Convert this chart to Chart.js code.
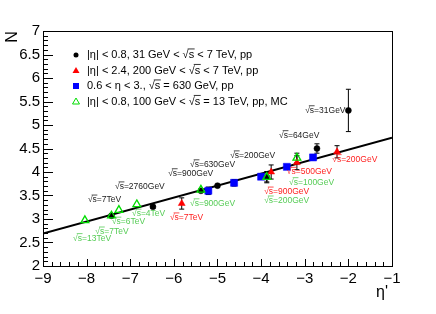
<!DOCTYPE html>
<html>
<head>
<meta charset="utf-8">
<script src="https://cdn.jsdelivr.net/npm/chart.js@4.4.1/dist/chart.umd.min.js"></script>
<style>
  html, body { margin: 0; padding: 0; background: #fff; }
</style>
</head>
<body>
<canvas id="chart" width="436" height="314"></canvas>
<script>
// --- data ---

// |eta| < 0.8, 31 GeV < sqrt(s) < 7 TeV, pp
const blackX   = [-7.43, -6.48, -5.38, -5.00, -3.87, -2.72, -2.00];
const blackY   = [3.07, 3.26, 3.60, 3.71, 3.89, 4.50, 5.31];
const blackErr = [0.04, 0.03, 0.03, 0.03, 0.10, 0.10, 0.45];

// |eta| < 2.4, 200 GeV < sqrt(s) < 7 TeV, pp
const redX   = [-5.82, -3.77, -3.18, -2.26];
const redY   = [3.33, 4.00, 4.20, 4.43];
const redErr = [0.12, 0.15, 0.15, 0.13];

// 0.6 < eta < 3., sqrt(s) = 630 GeV, pp
const blueX   = [-5.21, -4.62, -4.00, -3.41, -2.81];
const blueY   = [3.60, 3.77, 3.90, 4.11, 4.31];
const blueErr = [0.08, 0.07, 0, 0, 0];

// |eta| < 0.8, 100 GeV < sqrt(s) = 13 TeV, pp, MC
const greenX   = [-8.04, -7.43, -7.26, -6.85, -5.38, -3.87, -3.18];
const greenY   = [2.97, 3.07, 3.19, 3.31, 3.62, 3.89, 4.30];
const greenErr = [0, 0, 0, 0, 0, 0.12, 0.10];

// straight-line fit
const fitX = [-9, -1];
const fitY = [2.69, 4.73];

const legendLabels = [
    '|η| < 0.8, 31 GeV < √s < 7 TeV, pp',
    '|η| < 2.4, 200 GeV < √s < 7 TeV, pp',
    '0.6 < η < 3., √s = 630 GeV, pp',
    '|η| < 0.8, 100 GeV < √s = 13 TeV, pp, MC',
];

// energy annotations: [text, x, y]
const blackNotes = [
    ['√s=7TeV', -7.97, 3.41],
    ['√s=2760GeV', -7.35, 3.69],
    ['√s=900GeV', -6.13, 3.97],
    ['√s=630GeV', -5.63, 4.16],
    ['√s=200GeV', -4.71, 4.35],
    ['√s=64GeV', -3.59, 4.78],
    ['√s=31GeV', -2.99, 5.31],
];
const redNotes = [
    ['√s=7TeV', -6.09, 3.03],
    ['√s=900GeV', -3.93, 3.58],
    ['√s=500GeV', -3.41, 4.00],
    ['√s=200GeV', -2.37, 4.27],
];
const greenNotes = [
    ['√s=13TeV', -8.31, 2.59],
    ['√s=7TeV', -7.80, 2.73],
    ['√s=6TeV', -7.42, 2.94],
    ['√s=4TeV', -6.96, 3.11],
    ['√s=900GeV', -5.63, 3.33],
    ['√s=100GeV', -3.36, 3.78],
    ['√s=200GeV', -3.93, 3.39],
];

// --- helpers ---
const FONT = '"Liberation Sans", Arial, sans-serif';
const zip = (xs, ys) => xs.map((x, i) => ({ x, y: ys[i] }));

// text with an overline over the s following a sqrt sign (ROOT style)
function rootText(ctx, text, x, y) {
    ctx.fillText(text, x, y);
    const i = text.indexOf('√s');
    if (i < 0) return;
    const size = parseFloat(ctx.font.match(/(\d+(\.\d+)?)px/)[1]);
    const x0 = x + ctx.measureText(text.slice(0, i + 1)).width;
    const x1 = x0 + ctx.measureText('s').width;
    const yTop = y - size * 0.55;
    ctx.save();
    ctx.strokeStyle = ctx.fillStyle;
    ctx.lineWidth = 0.8;
    ctx.beginPath();
    ctx.moveTo(x0 - 1, yTop);
    ctx.lineTo(x1 + 0.5, yTop);
    ctx.stroke();
    ctx.restore();
}

const series = [
    { data: zip(blackX, blackY), err: blackErr, pointStyle: 'circle', radius: 3,
      color: '#000000', fill: '#000000' },
    { data: zip(redX, redY), err: redErr, pointStyle: 'triangle', radius: 4,
      color: '#ff0000', fill: '#ff0000' },
    { data: zip(blueX, blueY), err: blueErr, pointStyle: 'rect', radius: 5,
      color: '#0000ff', fill: '#0000ff' },
    { data: zip(greenX, greenY), err: greenErr, pointStyle: 'triangle', radius: 4.5,
      color: '#00dd00', fill: 'rgba(0,0,0,0)' },
];

// ROOT-like frame: inward ticks, box, error bars, notes, legend, axis titles
const rootFrame = {
    id: 'rootFrame',
    beforeDatasetsDraw(chart) {
        const { ctx, scales: { x, y } } = chart;
        ctx.save();
        ctx.strokeStyle = '#000';
        ctx.lineWidth = 1;
        series.forEach(s => {
            s.data.forEach((p, i) => {
                const e = s.err[i];
                if (!e) return;
                const px = x.getPixelForValue(p.x);
                const lo = y.getPixelForValue(p.y - e);
                const hi = y.getPixelForValue(p.y + e);
                ctx.beginPath();
                ctx.moveTo(px, lo); ctx.lineTo(px, hi);
                ctx.moveTo(px - 2.5, lo); ctx.lineTo(px + 2.5, lo);
                ctx.moveTo(px - 2.5, hi); ctx.lineTo(px + 2.5, hi);
                ctx.stroke();
            });
        });
        ctx.restore();
    },
    afterDraw(chart) {
        const { ctx, chartArea: a, scales: { x, y } } = chart;
        ctx.save();
        ctx.strokeStyle = '#000';
        ctx.lineWidth = 1;
        ctx.strokeRect(a.left + 0.5, a.top + 0.5, a.right - a.left, a.bottom - a.top);

        ctx.beginPath();
        for (let v = x.min; v <= x.max + 1e-9; v += 0.2) {
            const px = Math.round(x.getPixelForValue(v)) + 0.5;
            const major = Math.abs(v - Math.round(v)) < 1e-6;
            ctx.moveTo(px, a.bottom);
            ctx.lineTo(px, a.bottom - (major ? 7 : 4));
        }
        for (let v = y.min; v <= y.max + 1e-9; v += 0.1) {
            const py = Math.round(y.getPixelForValue(v)) + 0.5;
            const major = Math.abs(v * 2 - Math.round(v * 2)) < 1e-6;
            ctx.moveTo(a.left, py);
            ctx.lineTo(a.left + (major ? 10 : 5), py);
        }
        ctx.stroke();

        // energy notes
        ctx.font = '8.5px ' + FONT;
        ctx.textBaseline = 'middle';
        ctx.textAlign = 'left';
        [[blackNotes, '#222222'], [redNotes, '#ff2020'], [greenNotes, '#55cc55']].forEach(([notes, col]) => {
            ctx.fillStyle = col;
            notes.forEach(([t, vx, vy]) => rootText(ctx, t, x.getPixelForValue(vx), y.getPixelForValue(vy)));
        });

        // legend
        ctx.font = '11px ' + FONT;
        legendLabels.forEach((t, i) => {
            const ly = 55 + i * 15.5;
            const s = series[i];
            ctx.fillStyle = s.fill;
            ctx.strokeStyle = s.color;
            ctx.lineWidth = 1;
            ctx.beginPath();
            if (s.pointStyle === 'circle') {
                ctx.arc(76, ly, 2.5, 0, Math.PI * 2);
                ctx.fill();
            } else if (s.pointStyle === 'rect') {
                ctx.fillRect(73, ly - 3, 6, 6);
            } else {
                ctx.moveTo(76, ly - 3.5); ctx.lineTo(79.5, ly + 2.5); ctx.lineTo(72.5, ly + 2.5);
                ctx.closePath();
                if (s.fill !== 'rgba(0,0,0,0)') ctx.fill(); else ctx.stroke();
            }
            ctx.fillStyle = '#000';
            rootText(ctx, t, 87, ly);
        });

        // axis titles
        ctx.fillStyle = '#000';
        ctx.font = '16px ' + FONT;
        ctx.textAlign = 'center';
        ctx.fillText('η\'', 382, 293);
        ctx.translate(13, 37);
        ctx.rotate(-Math.PI / 2);
        ctx.fillText('N', 0, 0);
        ctx.restore();
    }
};

const datasets = [
    {
        type: 'line',
        data: zip(fitX, fitY),
        borderColor: '#000',
        borderWidth: 2,
        pointRadius: 0,
        order: 10,
    },
    ...series.map((s, i) => ({
        type: 'scatter',
        data: s.data,
        pointStyle: s.pointStyle,
        pointRadius: s.radius,
        pointBackgroundColor: s.fill,
        pointBorderColor: s.color,
        pointBorderWidth: i === 3 ? 1.3 : 0.5,
        order: 4 - i,
    })),
];

new Chart(document.getElementById('chart'), {
    data: { datasets },
    options: {
        responsive: false,
        animation: false,
        layout: { padding: { top: 31, right: 44, left: 0, bottom: 0 } },
        plugins: { legend: { display: false }, tooltip: { enabled: false } },
        scales: {
            x: {
                type: 'linear',
                min: -9, max: -1,
                grid: { display: false, drawTicks: false },
                border: { display: false },
                afterFit: s => { s.height = 48; },
                ticks: {
                    stepSize: 1,
                    padding: 4,
                    color: '#000',
                    font: { size: 15, family: FONT },
                    callback: v => String(v).replace('-', '\u2212'),
                },
            },
            y: {
                type: 'linear',
                min: 2, max: 7,
                grid: { display: false, drawTicks: false },
                border: { display: false },
                afterFit: s => { s.width = 43; },
                ticks: {
                    stepSize: 0.5,
                    padding: 3,
                    color: '#000',
                    font: { size: 15, family: FONT },
                    callback: v => String(+v.toFixed(1)),
                },
            },
        },
    },
    plugins: [rootFrame],
});
</script>
</body>
</html>
